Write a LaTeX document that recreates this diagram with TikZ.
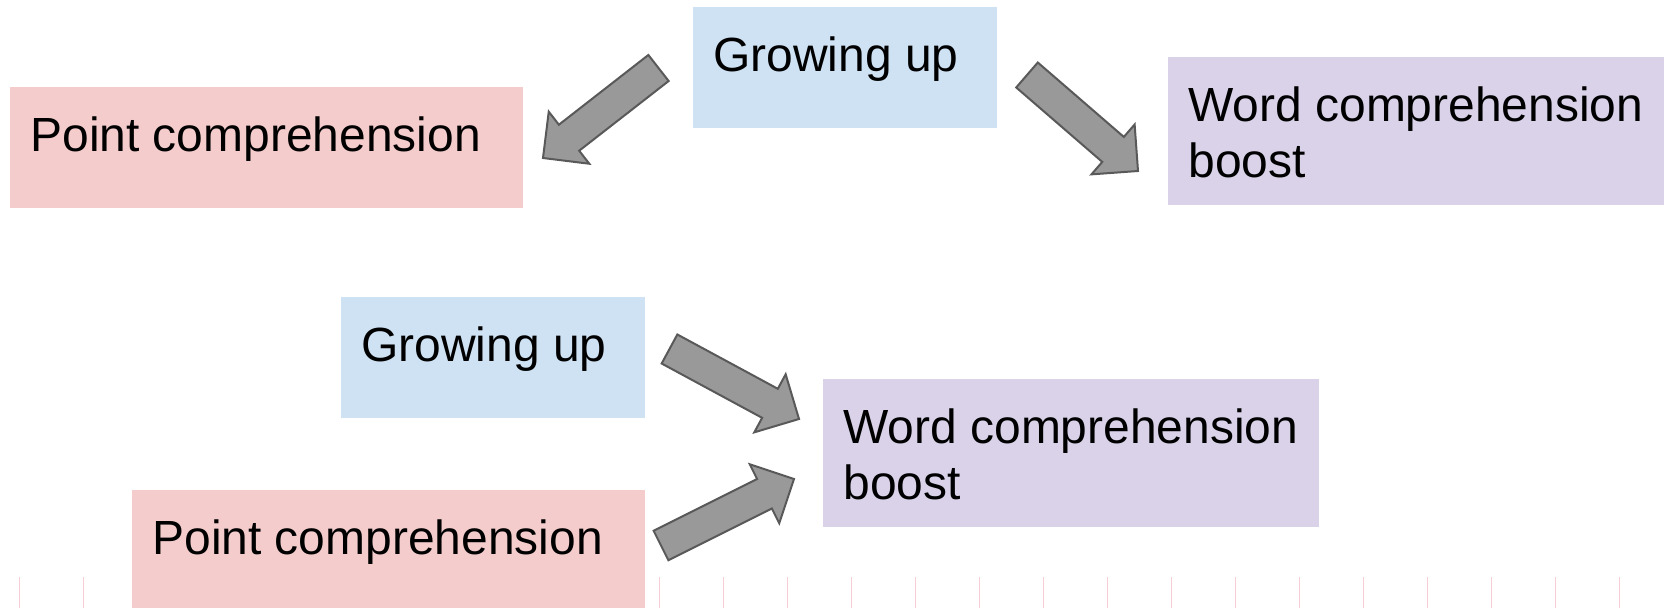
\documentclass[tikz,border=0pt]{standalone}
\usepackage{fontspec}
\setmainfont{Liberation Sans}
\usepackage{xcolor}
\usepackage{tikz}
\usetikzlibrary{calc, positioning}

\definecolor{growblue}{HTML}{CFE2F3}
\definecolor{pointpink}{HTML}{F4CCCC}
\definecolor{wordlilac}{HTML}{D9D2E9}
\definecolor{arrowgray}{HTML}{999999}
\definecolor{arrowedge}{HTML}{595959}
\definecolor{tickpink}{HTML}{F7CDD4}

% broad arrow from tail point #1 to tip #2
\newcommand{\fatarrow}[2]{%
  \draw[fatarrow] ($(#1)!0.33cm!90:(#2)$)
    -- ($(#2)!0.66cm!(#1)!0.33cm!90:(#2)$)
    -- ($(#2)!0.66cm!(#1)!0.66cm!90:(#2)$)
    -- (#2)
    -- ($(#2)!0.66cm!(#1)!0.66cm!-90:(#2)$)
    -- ($(#2)!0.66cm!(#1)!0.33cm!-90:(#2)$)
    -- ($(#1)!0.33cm!-90:(#2)$) -- cycle;}

\begin{document}
\begin{tikzpicture}[
    x=0.02cm, y=-0.02cm,
    every node/.style={font=\fontsize{27.3pt}{31.9pt}\selectfont},
    card/.style={inner sep=0pt, anchor=north west, minimum height=2.42cm},
    wide/.style={minimum width=10.26cm},
    narrow/.style={minimum width=6.08cm},
    tall/.style={minimum width=9.92cm, minimum height=2.96cm},
    cardtext/.style={anchor=base west, inner sep=0pt, align=left,
                     xshift=0.4cm, yshift=-1.3cm},
    twolines/.style={cardtext, yshift=-1.12cm},
    fatarrow/.style={fill=arrowgray, draw=arrowedge, line width=0.04cm, line join=miter},
    ticks/.style={draw=tickpink, line width=0.02cm}
]
\path[use as bounding box, fill=white] (0,0) rectangle (1667,608);

\foreach \k in {0,...,25}
    \draw[ticks] (19+64*\k,577) -- (19+64*\k,608);

% one cause, two effects
\node[card, narrow, fill=growblue,
      label={[cardtext]north west:Growing up}] (growA) at (693,7) {};
\node[card, wide, fill=pointpink,
      label={[cardtext]north west:Point comprehension}] (pointA) at (10,87) {};
\node[card, tall, fill=wordlilac,
      label={[twolines]north west:Word comprehension\\boost}] (wordA) at (1168,57) {};

% two causes, one effect
\node[card, narrow, fill=growblue,
      label={[cardtext]north west:Growing up}] (growB) at (341,297) {};
\node[card, tall, fill=wordlilac,
      label={[twolines]north west:Word comprehension\\boost}] (wordB) at (823,379) {};
\node[card, wide, fill=pointpink,
      label={[cardtext]north west:Point comprehension}] (pointB) at (132,490) {};

\coordinate (growA-out1) at (658.5,68);
\coordinate (pointA-in)  at (543,158);
\coordinate (growA-out2) at (1027,75);
\coordinate (wordA-in)   at (1138,171);
\coordinate (growB-out)  at (669.5,349);
\coordinate (wordB-in1)  at (799,419);
\coordinate (pointB-out) at (661,545.5);
\coordinate (wordB-in2)  at (794,479);

\fatarrow{growA-out1}{pointA-in}
\fatarrow{growA-out2}{wordA-in}
\fatarrow{growB-out}{wordB-in1}
\fatarrow{pointB-out}{wordB-in2}
\end{tikzpicture}
\end{document}
